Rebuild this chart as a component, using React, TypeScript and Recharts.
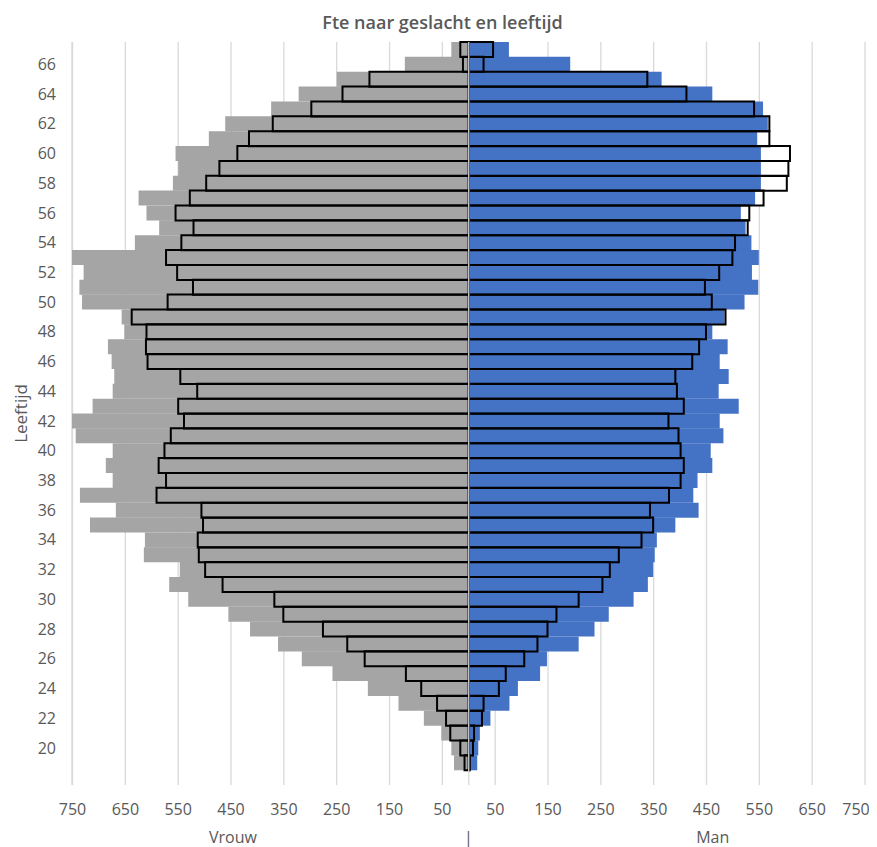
import React from "react"
import { Bar, BarChart, XAxis, YAxis, CartesianGrid, ReferenceLine, Label } from "recharts"

// leeftijden van onder (18) naar boven (67)
const ages = [
  18, 19, 20, 21, 22, 23, 24, 25, 26, 27, 28, 29, 30, 31, 32, 33, 34, 35, 36, 37, 38, 39, 40, 41, 42,
  43, 44, 45, 46, 47, 48, 49, 50, 51, 52, 53, 54, 55, 56, 57, 58, 59, 60, 61, 62, 63, 64, 65, 66, 67,
]

// gevulde balken
const vrouwFte = [
  0, 28, 33, 52, 85, 133, 191, 258, 316, 361, 414, 455, 531, 567, 547, 615, 613, 717, 668, 736, 674, 687, 674, 744, 751,
  712, 674, 671, 676, 683, 652, 657, 732, 737, 729, 751, 632, 586, 610, 625, 560, 550, 555, 492, 461, 374, 322, 250, 121, 33,
]
const manFte = [
  0, 16, 18, 21, 41, 77, 93, 135, 148, 208, 238, 265, 312, 339, 349, 352, 356, 391, 435, 425, 433, 461, 458, 482, 475,
  511, 473, 492, 475, 490, 461, 484, 522, 548, 536, 549, 535, 524, 515, 542, 553, 553, 553, 546, 566, 557, 461, 365, 192, 76,
]

// omlijnde balken
const vrouwOmlijnd = [
  0, 8, 16, 35, 43, 60, 90, 119, 197, 230, 276, 351, 368, 466, 499, 511, 513, 503, 506, 591, 573, 587, 576, 564, 539,
  550, 514, 546, 608, 611, 610, 638, 570, 522, 552, 573, 544, 521, 555, 528, 497, 472, 438, 416, 371, 298, 239, 188, 11, 16,
]
const manOmlijnd = [
  0, 2, 8, 10, 25, 28, 57, 70, 105, 130, 149, 166, 208, 253, 267, 284, 327, 349, 343, 379, 401, 407, 401, 397, 378,
  407, 394, 391, 423, 436, 449, 486, 460, 447, 474, 499, 504, 528, 531, 558, 602, 605, 608, 569, 569, 540, 412, 338, 28, 46,
]

const xTicks = [-750, -650, -550, -450, -350, -250, -150, -50, 50, 150, 250, 350, 450, 550, 650, 750]

const data = ages.map((age, i) => ({
  age,
  vrouw: -vrouwFte[i],
  man: manFte[i],
  vrouwLijn: -vrouwOmlijnd[i],
  manLijn: manOmlijnd[i],
}))

const font = "'Open Sans', sans-serif"
const textColor = "#595959"

function XTick(props: any) {
  const { x, y, payload } = props
  // laatste label schuift iets naar binnen, zoals in Excel
  const shift = payload.value === 750 ? -9 : 0
  return (
    <text x={x + shift} y={y} dy="0.71em" textAnchor="middle" fill={textColor} fontSize={16} fontFamily={font}>
      {Math.abs(payload.value)}
    </text>
  )
}

function GenderLabels(props: any) {
  const vb = props.viewBox || { x: 64, y: 777, width: 793 }
  const y = vb.y + 52
  return (
    <g fill={textColor} fontSize={16} fontFamily={font}>
      <text x={vb.x + vb.width * 0.203} y={y} textAnchor="middle" dominantBaseline="central">Vrouw</text>
      <text x={vb.x + vb.width * 0.5} y={y} textAnchor="middle" dominantBaseline="central">|</text>
      <text x={vb.x + vb.width * 0.808} y={y} textAnchor="middle" dominantBaseline="central">Man</text>
    </g>
  )
}

function AgeLabel(props: any) {
  const vb = props.viewBox || { x: 4, y: 34, height: 743 }
  const cx = vb.x + 8
  const cy = vb.y + vb.height / 2
  return (
    <text x={cx} y={cy} transform={`rotate(-90 ${cx} ${cy})`} textAnchor="middle" dominantBaseline="central"
      fill={textColor} fontSize={17} fontFamily={font}>
      Leeftijd
    </text>
  )
}

export default function App() {
  return (
    <div style={{ position: "relative", width: 869, height: 839, fontFamily: font }}>
      <div style={{ position: "absolute", top: 2, left: 0, width: 869, textAlign: "center",
        fontSize: 18, fontWeight: 600, color: textColor, lineHeight: "24px" }}>
        Fte naar geslacht en leeftijd
      </div>
      <BarChart width={869} height={839} data={data} layout="vertical" stackOffset="sign"
        barCategoryGap={0} barGap={0} margin={{ top: 34, right: 12, bottom: 2, left: 4 }}>
        <CartesianGrid horizontal={false} stroke="#d9d9d9" strokeWidth={1.3} />
        <XAxis type="number" domain={[-750, 750]} ticks={xTicks}
          axisLine={false} tickLine={false} tickMargin={13} height={60} tick={<XTick />}>
          <Label content={<GenderLabels />} />
        </XAxis>
        <YAxis type="category" dataKey="age" reversed width={60} interval={1} axisLine={false} tickLine={false}
          tickMargin={10} tickFormatter={(v: number) => (v === 18 ? "" : String(v))}
          tick={{ fill: textColor, fontSize: 16, fontFamily: font }}>
          <Label content={<AgeLabel />} />
        </YAxis>
        <YAxis yAxisId="onder" type="category" dataKey="age" reversed hide />
        <YAxis yAxisId="boven" type="category" dataKey="age" reversed hide />

        <Bar yAxisId="onder" dataKey="vrouwLijn" stackId="o" fill="#ffffff" isAnimationActive={false} />
        <Bar yAxisId="onder" dataKey="manLijn" stackId="o" fill="#ffffff" isAnimationActive={false} />

        <Bar dataKey="vrouw" stackId="f" fill="#a5a5a5" isAnimationActive={false} />
        <Bar dataKey="man" stackId="f" fill="#4472c4" isAnimationActive={false} />

        <Bar yAxisId="boven" dataKey="vrouwLijn" stackId="b" fill="none" stroke="#000000" strokeWidth={2}
          isAnimationActive={false} />
        <Bar yAxisId="boven" dataKey="manLijn" stackId="b" fill="none" stroke="#000000" strokeWidth={2}
          isAnimationActive={false} />

        <ReferenceLine x={0} stroke="#d9d9d9" strokeWidth={1.3} />
      </BarChart>
    </div>
  )
}
